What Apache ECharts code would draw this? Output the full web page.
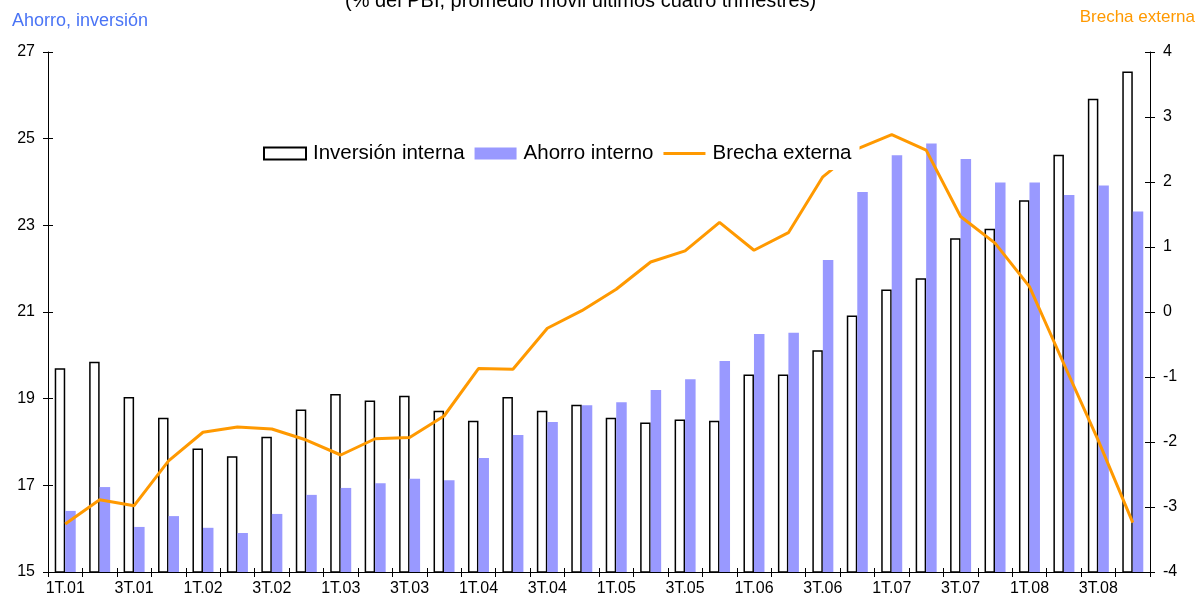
<!DOCTYPE html>
<html>
<head>
<meta charset="utf-8">
<script src="https://cdn.jsdelivr.net/npm/echarts@6/dist/echarts.min.js"></script>
<style>
  html, body { margin: 0; padding: 0; background: #fff; }
  #chart { width: 1199px; height: 604px; }
</style>
</head>
<body>
<div id="chart"></div>
<script>
  // trimestres 1T.01 .. 4T.08
  var quarters = [];
  for (var y = 1; y <= 8; y++) {
    for (var q = 1; q <= 4; q++) {
      quarters.push(q + 'T.0' + y);
    }
  }

  // % del PBI
  var inversion = [19.70, 19.85, 19.04, 18.56, 17.85, 17.67, 18.12, 18.75,
                   19.11, 18.96, 19.07, 18.72, 18.49, 19.04, 18.72, 18.86,
                   18.56, 18.45, 18.52, 18.49, 19.56, 19.56, 20.12, 20.92,
                   21.52, 21.78, 22.70, 22.92, 23.58, 24.63, 25.92, 26.55];
  var ahorro = [16.41, 16.96, 16.04, 16.29, 16.02, 15.90, 16.34, 16.78,
                16.94, 17.05, 17.15, 17.12, 17.63, 18.16, 18.46, 18.85,
                18.92, 19.20, 19.45, 19.87, 20.49, 20.52, 22.20, 23.77,
                24.62, 24.89, 24.53, 23.99, 23.99, 23.70, 23.92, 23.32];
  var brecha = [-3.26, -2.89, -2.98, -2.29, -1.85, -1.77, -1.80, -1.97,
                -2.20, -1.95, -1.93, -1.60, -0.87, -0.88, -0.25, 0.02,
                0.35, 0.77, 0.94, 1.38, 0.95, 1.22, 2.08, 2.51,
                2.73, 2.49, 1.47, 1.06, 0.39, -0.80, -1.98, -3.24];

  var chart = echarts.init(document.getElementById('chart'));
  var font = 'Liberation Sans, Arial, sans-serif';

  // ejes "fantasma" solo para que las marcas crucen el eje (hacia dentro)
  function innerY(min, max, interval, pos) {
    return {
      type: 'value', min: min, max: max, interval: interval, position: pos,
      axisLine: { show: false }, splitLine: { show: false }, axisLabel: { show: false },
      axisTick: { show: true, inside: true, length: 5, lineStyle: { color: '#000' } }
    };
  }

  chart.setOption({
    animation: false,
    textStyle: { fontFamily: font },
    title: {
      text: '(% del PBI, promedio móvil últimos cuatro trimestres)',
      left: 340,
      top: -14,
      textStyle: { fontSize: 20, fontWeight: 'normal', color: '#000', fontFamily: font }
    },
    legend: {
      top: 137,
      left: 255,
      backgroundColor: '#fff',
      padding: [6, 8, 6, 8],
      itemGap: 10,
      itemWidth: 42,
      itemHeight: 12,
      textStyle: { fontSize: 20.5, color: '#000', fontFamily: font, padding: [0, 0, 0, 2] },
      data: [
        { name: 'Inversión interna', icon: 'rect' },
        { name: 'Ahorro interno', icon: 'rect' },
        { name: 'Brecha externa', icon: 'path://M0,0L42,0L42,3L0,3Z' }
      ]
    },
    grid: { left: 48, right: 49, top: 52, bottom: 32 },
    xAxis: [
      {
        type: 'category',
        data: quarters,
        boundaryGap: true,
        axisLine: { onZero: false, lineStyle: { color: '#000', width: 1 } },
        axisTick: { show: true, interval: 0, length: 5, lineStyle: { color: '#000' } },
        axisLabel: { interval: 1, color: '#000', fontSize: 16, margin: 9 }
      },
      {
        type: 'category',
        data: quarters,
        position: 'bottom',
        boundaryGap: true,
        axisLine: { show: false, onZero: false },
        axisTick: { show: true, inside: true, interval: 0, length: 4, lineStyle: { color: '#000' } },
        axisLabel: { show: false }
      }
    ],
    yAxis: [
      {
        type: 'value',
        min: 15, max: 27, interval: 2,
        position: 'left',
        name: 'Ahorro, inversión',
        nameLocation: 'end',
        nameGap: 0,
        nameTextStyle: { color: '#4a74f5', fontSize: 18, align: 'left', verticalAlign: 'bottom', padding: [0, 0, 22, -36] },
        splitLine: { show: false },
        axisLine: { show: true, lineStyle: { color: '#000', width: 1 } },
        axisTick: { show: true, length: 5, lineStyle: { color: '#000' } },
        axisLabel: { color: '#000', fontSize: 16, margin: 13 }
      },
      {
        type: 'value',
        min: -4, max: 4, interval: 1,
        position: 'right',
        name: 'Brecha externa',
        nameLocation: 'end',
        nameGap: 0,
        nameTextStyle: { color: '#ff9900', fontSize: 17, align: 'right', verticalAlign: 'bottom', padding: [0, -45, 26, 0] },
        splitLine: { show: false },
        axisLine: { show: true, lineStyle: { color: '#000', width: 1 } },
        axisTick: { show: true, length: 5, lineStyle: { color: '#000' } },
        axisLabel: { color: '#000', fontSize: 16, margin: 13 }
      },
      innerY(15, 27, 2, 'left'),
      innerY(-4, 4, 1, 'right')
    ],
    series: [
      {
        name: 'Inversión interna',
        type: 'bar',
        yAxisIndex: 0,
        data: inversion,
        barWidth: 10.5,
        barGap: '0%',
        itemStyle: { color: '#fff', borderColor: '#000', borderWidth: 1.5 }
      },
      {
        name: 'Ahorro interno',
        type: 'bar',
        yAxisIndex: 0,
        data: ahorro,
        barWidth: 10.5,
        barGap: '0%',
        itemStyle: { color: '#9999ff' }
      },
      {
        name: 'Brecha externa',
        type: 'line',
        yAxisIndex: 1,
        data: brecha,
        symbol: 'none',
        z: 3,
        lineStyle: { color: '#ff9900', width: 3 },
        itemStyle: { color: '#ff9900' }
      }
    ]
  });
</script>
</body>
</html>
